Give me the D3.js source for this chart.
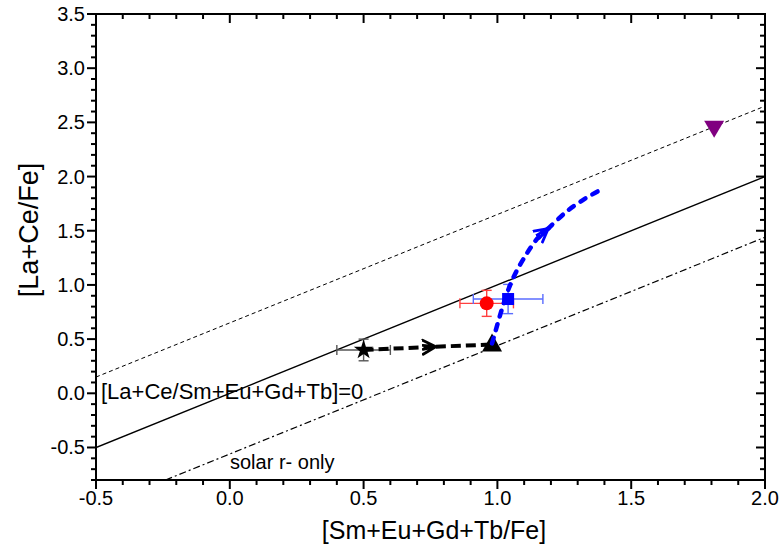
<!DOCTYPE html>
<html>
<head>
<meta charset="utf-8">
<script src="https://cdn.jsdelivr.net/npm/d3@7"></script>
<style>
  body { margin: 0; background: #fff; }
  svg text { font-family: "Liberation Sans", Arial, sans-serif; fill: #000; }
</style>
</head>
<body>
<div id="chart"></div>
<script>
/* [La+Ce/Fe] vs [Sm+Eu+Gd+Tb/Fe] scatter with reference lines and evolution arrows */
const xTicks = [-0.5, 0.0, 0.5, 1.0, 1.5, 2.0];
const yTicks = [-0.5, 0.0, 0.5, 1.0, 1.5, 2.0, 2.5, 3.0, 3.5];
const xDomain = [-0.5, 2.0];
const yDomain = [-0.8, 3.5];

// reference lines y = x + offset
const solarOffset = 0;      // [La+Ce/Sm+Eu+Gd+Tb]=0
const upperOffset = 0.65;   // thin dashed
const rOnlyOffset = -0.56;  // solar r- only, dash-dot

// data points: [x, y, xerr, yerr]
const star = [0.50, 0.40, 0.10, 0.10];
const circle = [0.96, 0.83, 0.10, 0.12];
const square = [1.04, 0.87, 0.13, 0.135];
const triUp = [0.98, 0.45];
const triDown = [1.81, 2.45];

// evolution paths
const blackPath = [[0.50, 0.40], [0.77, 0.43], [0.98, 0.45]];
const bluePath = [[0.98, 0.46], [1.03, 0.88], [1.06, 1.07], [1.10, 1.25], [1.15, 1.43],
                  [1.19, 1.52], [1.26, 1.68], [1.33, 1.80], [1.38, 1.87]];

const W = 780, H = 552;
const m = { top: 14, right: 15, bottom: 72, left: 96 };

const svg = d3.select("#chart").append("svg").attr("width", W).attr("height", H);

const x = d3.scaleLinear().domain(xDomain).range([m.left, W - m.right]);
const y = d3.scaleLinear().domain(yDomain).range([H - m.bottom, m.top]);

const defs = svg.append("defs");
defs.append("clipPath").attr("id", "clip").append("rect")
  .attr("x", m.left).attr("y", m.top).attr("width", W - m.left - m.right).attr("height", H - m.top - m.bottom);

function chevron(id, col) {
  defs.append("marker").attr("id", id).attr("viewBox", "-14 -9 16 18")
    .attr("refX", 0).attr("refY", 0).attr("markerWidth", 16).attr("markerHeight", 18)
    .attr("markerUnits", "userSpaceOnUse").attr("orient", "auto")
    .append("path").attr("d", "M-13,-7 L0,0 L-13,7 M-13,-2 L0,0 L-13,2")
    .attr("fill", "none").attr("stroke", col).attr("stroke-width", 2.8).attr("stroke-linecap", "round");
}
chevron("arrK", "#000");
chevron("arrB", "#0000ff");

const plot = svg.append("g").attr("clip-path", "url(#clip)");

// reference lines
function refLine(off, dash, width) {
  plot.append("line")
    .attr("x1", x(xDomain[0])).attr("y1", y(xDomain[0] + off))
    .attr("x2", x(xDomain[1])).attr("y2", y(xDomain[1] + off))
    .attr("stroke", "#000").attr("stroke-width", width)
    .attr("stroke-dasharray", dash);
}
refLine(solarOffset, null, 1.4);
refLine(upperOffset, "4,3", 1);
refLine(rOnlyOffset, "7,3,2,3", 1.2);

// error bars
function errBar(p, col) {
  const g = plot.append("g").attr("stroke", col).attr("stroke-width", 1.4);
  const cap = 5;
  g.append("line").attr("x1", x(p[0] - p[2])).attr("x2", x(p[0] + p[2])).attr("y1", y(p[1])).attr("y2", y(p[1]));
  g.append("line").attr("x1", x(p[0])).attr("x2", x(p[0])).attr("y1", y(p[1] - p[3])).attr("y2", y(p[1] + p[3]));
  [p[0] - p[2], p[0] + p[2]].forEach((v) =>
    g.append("line").attr("x1", x(v)).attr("x2", x(v)).attr("y1", y(p[1]) - cap).attr("y2", y(p[1]) + cap));
  [p[1] - p[3], p[1] + p[3]].forEach((v) =>
    g.append("line").attr("y1", y(v)).attr("y2", y(v)).attr("x1", x(p[0]) - cap).attr("x2", x(p[0]) + cap));
}
errBar(star, "#555");
errBar(circle, "#ff4040");
errBar(square, "#5a6cff");

// black path with arrow
const lineGen = d3.line().x((d) => x(d[0])).y((d) => y(d[1]));
plot.append("path").datum(blackPath.slice(0, 2)).attr("d", lineGen)
  .attr("fill", "none").attr("stroke", "#000").attr("stroke-width", 4)
  .attr("stroke-dasharray", "10,5").attr("marker-end", "url(#arrK)");
plot.append("path").datum(blackPath.slice(1)).attr("d", lineGen)
  .attr("fill", "none").attr("stroke", "#000").attr("stroke-width", 4)
  .attr("stroke-dasharray", "10,5");

// markers
const sym = (type, size) => d3.symbol().type(type).size(size)();
plot.append("path").attr("d", sym(d3.symbolStar, 120))
  .attr("transform", `translate(${x(star[0])},${y(star[1])})`).attr("fill", "#000");
plot.append("circle").attr("cx", x(circle[0])).attr("cy", y(circle[1])).attr("r", 7).attr("fill", "#ff0000");
plot.append("rect").attr("x", x(square[0]) - 6).attr("y", y(square[1]) - 6)
  .attr("width", 12).attr("height", 12).attr("fill", "#0000ff");
plot.append("path").attr("d", "M0,-11 L10,7 L-10,7 Z")
  .attr("transform", `translate(${x(triUp[0])},${y(triUp[1])})`).attr("fill", "#000");
plot.append("path").attr("d", "M0,10 L10,-7 L-10,-7 Z")
  .attr("transform", `translate(${x(triDown[0])},${y(triDown[1])})`).attr("fill", "#800080");

// blue path with arrow
const curve = d3.line().x((d) => x(d[0])).y((d) => y(d[1])).curve(d3.curveCatmullRom);
plot.append("path").datum(bluePath.slice(0, 6)).attr("d", curve)
  .attr("fill", "none").attr("stroke", "#0000ff").attr("stroke-width", 4.5)
  .attr("stroke-linecap", "round").attr("stroke-dasharray", "6,8").attr("marker-end", "url(#arrB)");
plot.append("path").datum(bluePath.slice(5)).attr("d", curve)
  .attr("fill", "none").attr("stroke", "#0000ff").attr("stroke-width", 4.5)
  .attr("stroke-linecap", "round").attr("stroke-dasharray", "6,8");

// annotations
svg.append("text").attr("x", 101).attr("y", 399).attr("font-size", 22).text("[La+Ce/Sm+Eu+Gd+Tb]=0");
svg.append("text").attr("x", 230).attr("y", 469).attr("font-size", 20).text("solar r- only");

// axes
const minorX = d3.range(-0.5, 2.0001, 0.1);
const minorY = d3.range(-0.8, 3.5001, 0.1);
const isMajor = (v) => Math.abs(v * 2 - Math.round(v * 2)) < 1e-6;
const ax = svg.append("g").attr("stroke", "#000");

ax.append("rect").attr("x", m.left).attr("y", m.top)
  .attr("width", W - m.left - m.right).attr("height", H - m.top - m.bottom)
  .attr("fill", "none").attr("stroke-width", 2);

minorX.forEach((v) => {
  const L = isMajor(v) ? 9 : 5;
  ax.append("line").attr("x1", x(v)).attr("x2", x(v)).attr("y1", y(yDomain[0])).attr("y2", y(yDomain[0]) + L).attr("stroke-width", 2);
  ax.append("line").attr("x1", x(v)).attr("x2", x(v)).attr("y1", m.top).attr("y2", m.top + L).attr("stroke-width", 2);
});
minorY.forEach((v) => {
  const L = isMajor(v) ? 9 : 5;
  ax.append("line").attr("y1", y(v)).attr("y2", y(v)).attr("x1", m.left).attr("x2", m.left - L).attr("stroke-width", 2);
  ax.append("line").attr("y1", y(v)).attr("y2", y(v)).attr("x1", W - m.right).attr("x2", W - m.right - L).attr("stroke-width", 2);
});

svg.append("g").selectAll("text").data(xTicks).join("text")
  .attr("x", x).attr("y", 505).attr("text-anchor", "middle").attr("font-size", 20)
  .text((d) => d.toFixed(1));
svg.append("g").selectAll("text").data(yTicks).join("text")
  .attr("x", m.left - 11).attr("y", (d) => y(d) + 7).attr("text-anchor", "end").attr("font-size", 20)
  .text((d) => d.toFixed(1));

svg.append("text").attr("x", 434).attr("y", 539).attr("text-anchor", "middle").attr("font-size", 25)
  .text("[Sm+Eu+Gd+Tb/Fe]");
svg.append("text").attr("transform", "translate(38,230) rotate(-90)").attr("text-anchor", "middle")
  .attr("font-size", 27).text("[La+Ce/Fe]");
</script>
</body>
</html>
